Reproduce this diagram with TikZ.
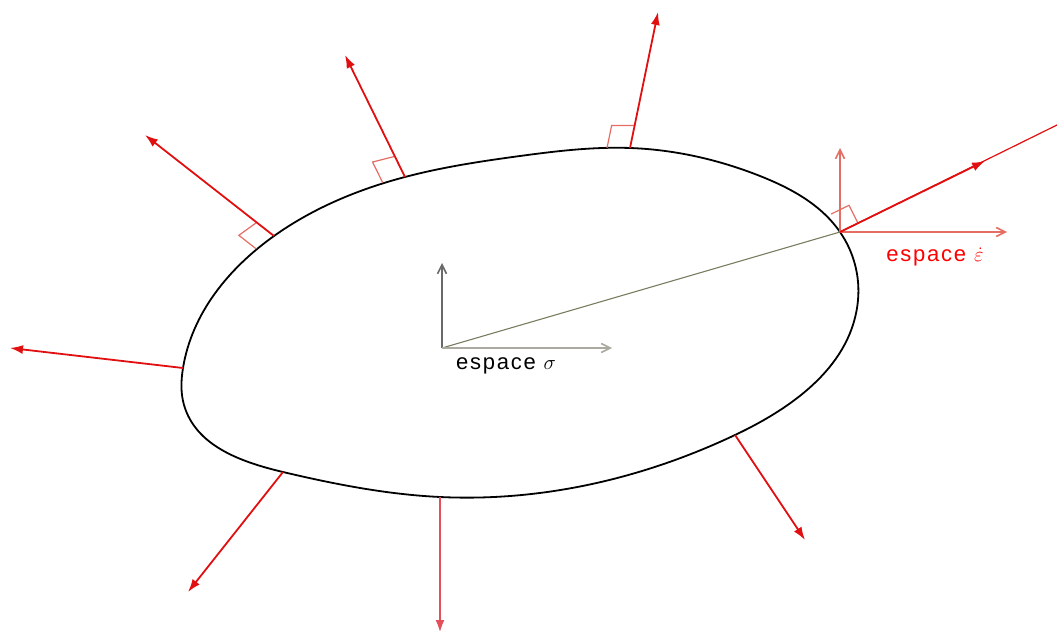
\documentclass[tikz,border=0pt]{standalone}
\usepackage{fontspec}
\setmainfont{Liberation Sans}[LetterSpace=8]
\usetikzlibrary{arrows.meta,calc,hobby}
\definecolor{arrred}{RGB}{225,15,15}
\definecolor{softred}{RGB}{228,80,90}
\definecolor{axred}{RGB}{228,110,100}
\definecolor{axgray}{RGB}{105,105,105}
\definecolor{axlight}{RGB}{170,170,160}
\definecolor{radial}{RGB}{120,125,95}
\tikzset{
  normalarrow/.style={draw=arrred, line width=1.8pt, -{Latex[length=13pt,width=9pt]}},
  rightmark/.style={draw=axred, line width=1.2pt},
  redaxis/.style={draw=axred, line width=1.6pt, -{Straight Barb[length=9pt,width=9pt]}},
  grayaxis/.style={line width=1.6pt, -{Straight Barb[length=9pt,width=9pt]}},
  curveline/.style={draw=black, line width=1.8pt},
  lbl/.style={font=\fontsize{22}{24}\selectfont, inner sep=0pt}
}
\begin{document}
\begin{tikzpicture}[x=1pt,y=-1pt]
\useasboundingbox (0,0) rectangle (1057,636);
% base points and tips
\coordinate (B1) at (183,368); \coordinate (A1) at (10,348);
\coordinate (B2) at (274,236); \coordinate (A2) at (145,135);
\coordinate (B3) at (405,177); \coordinate (A3) at (345,55);
\coordinate (B4) at (630,148); \coordinate (A4) at (658,12);
\coordinate (B5) at (840,232); \coordinate (A5) at (985,161); \coordinate (E5) at (1057,125);
\coordinate (B6) at (735,435); \coordinate (A6) at (805,540);
\coordinate (B7) at (440,497); \coordinate (A7) at (440,633);
\coordinate (B8) at (283,472); \coordinate (A8) at (188,592);
% closed curve
\draw[curveline, use Hobby shortcut, closed=true]
 (B4) .. (760,176) .. (B5) .. (858,300) .. (B6) .. (B7) .. (B8) .. (184,405) .. (B1) .. (B2) .. (B3) .. (520,156);
% tangent helpers
\coordinate (T2) at (238,262);
\coordinate (T3) at (350,191);
\coordinate (T4) at (600,148);
\coordinate (T5) at (822,196);
% right-angle marks
\foreach \b/\a/\t/\s in {B2/A2/T2/22, B3/A3/T3/23, B4/A4/T4/23, B5/A5/T5/20}{
  \coordinate (P1) at ($(\b)!\s pt!(\t)$);
  \coordinate (P3) at ($(\b)!\s pt!(\a)$);
  \draw[rightmark] (P1) -- ($(P1)+(P3)-(\b)$) -- (P3);
}
% inner sigma axes
\coordinate (O) at (442,348);
\coordinate (OY) at (442,263);
\coordinate (OX) at (612,348);
\draw[radial, line width=1.1pt] (O) -- (B5);
\draw[grayaxis, draw=axgray] (O) -- (OY);
\draw[grayaxis, draw=axlight] (O) -- (OX);
% epsilon axes
\coordinate (EY) at (840,148);
\coordinate (EX) at (1007,232);
\draw[redaxis] (B5) -- (EY);
\draw[redaxis] (B5) -- (EX);
% normal arrows
\draw[draw=arrred, line width=1.2pt] (B5) -- (E5);
\draw[normalarrow] (B5) -- (A5);
\draw[normalarrow] (B1) -- (A1);
\draw[normalarrow] (B2) -- (A2);
\draw[normalarrow] (B3) -- (A3);
\draw[normalarrow] (B4) -- (A4);
\draw[normalarrow] (B6) -- (A6);
\draw[normalarrow, draw=softred, line width=2.6pt] (B7) -- (A7);
\draw[normalarrow] (B8) -- (A8);
% labels
\node[lbl, text=black] (lsig) at (506,366) {espace $\sigma$};
\node[lbl, text=red] (leps) at (935,257) {espace $\dot{\varepsilon}$};
\end{tikzpicture}
\end{document}
